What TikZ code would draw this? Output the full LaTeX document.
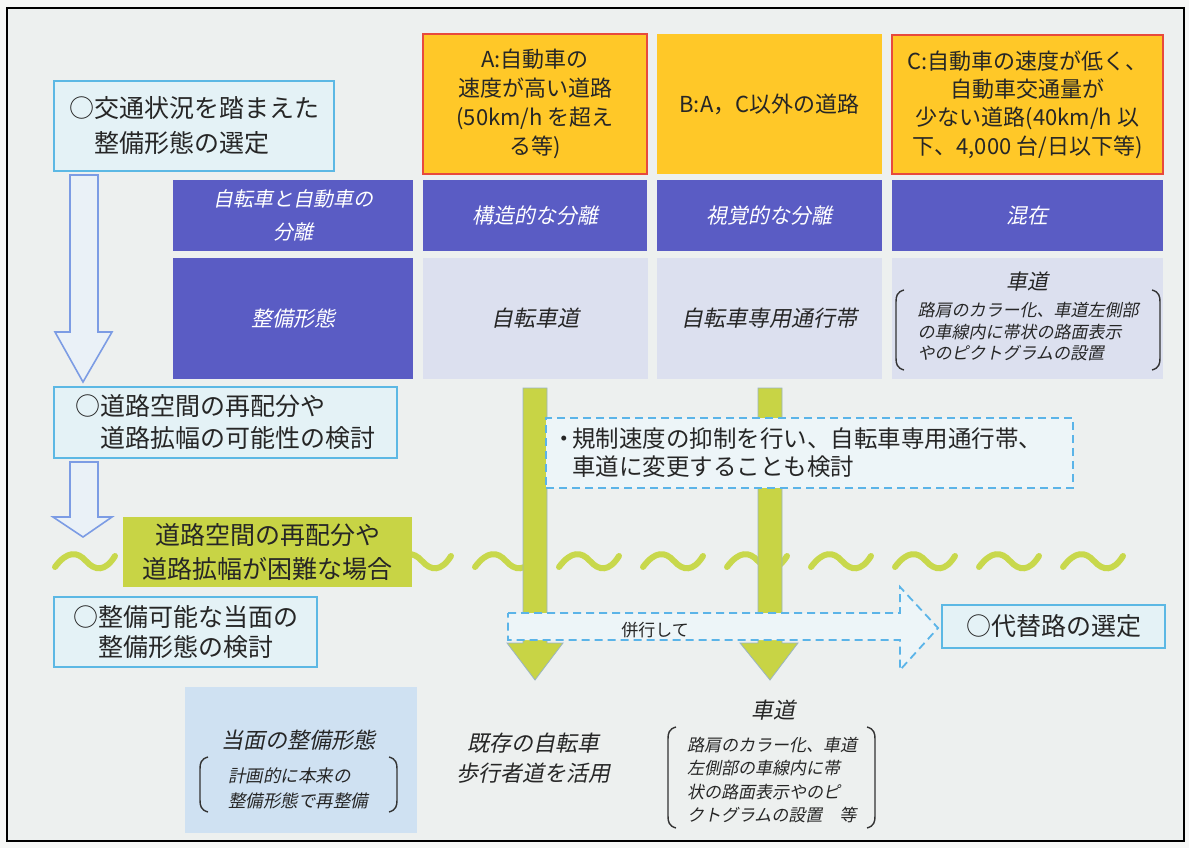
\documentclass[tikz,border=0pt]{standalone}
\usepackage{fontspec}
\setmainfont{Noto Sans CJK JP}
\newfontfamily\itf[FakeSlant=0.2]{Noto Sans CJK JP}
\definecolor{bg}{HTML}{EDF0EF}
\definecolor{outbg}{HTML}{F6F7F6}
\definecolor{cyanline}{HTML}{5CB8E4}
\definecolor{cyanfill}{HTML}{E4F2F6}
\definecolor{purplec}{HTML}{5A5CC4}
\definecolor{lavc}{HTML}{DCE0EF}
\definecolor{yellowc}{HTML}{FFC828}
\definecolor{redc}{HTML}{E84A3C}
\definecolor{greenc}{HTML}{C8D445}
\definecolor{gline}{HTML}{C8D84C}
\definecolor{arrowblue}{HTML}{7C9CE4}
\definecolor{arrowfill}{HTML}{EAF1F7}
\definecolor{dashc}{HTML}{5BB4E8}
\definecolor{dbfill}{HTML}{EDF5F8}
\definecolor{bluefill}{HTML}{CFE1F2}
\definecolor{txt}{HTML}{262626}
\definecolor{brkc}{HTML}{333333}
\definecolor{goutline}{HTML}{9AB4C4}
\newcommand\mylbrk[3]{\draw[brk] (#1+8,#2) .. controls (#1+1,#2+2) and (#1,#2+6) .. (#1,#2+12) -- (#1,#3-12) .. controls (#1,#3-6) and (#1+1,#3-2) .. (#1+8,#3);}
\newcommand\myrbrk[3]{\draw[brk] (#1-8,#2) .. controls (#1-1,#2+2) and (#1,#2+6) .. (#1,#2+12) -- (#1,#3-12) .. controls (#1,#3-6) and (#1-1,#3-2) .. (#1-8,#3);}
\tikzset{
  box/.style={anchor=north west, inner sep=0pt, outer sep=0pt, text=txt},
  cyanbox/.style={box, draw=cyanline, fill=cyanfill, line width=1.8pt, align=left, font=\fontsize{25}{33}\selectfont},
  yel/.style={box, fill=yellowc, align=center, font=\fontsize{22}{29}\selectfont},
  pur/.style={box, fill=purplec, text=white, align=center, font=\itf\fontsize{21}{33}\selectfont},
  lav/.style={box, fill=lavc, align=center, font=\itf\fontsize{22}{28}\selectfont},
  itx/.style={inner sep=0pt, text=txt},
  brk/.style={draw=brkc, line width=1.4pt},
  tilde/.style={draw=gline, line width=6pt, line cap=round},
  hollow/.style={draw=arrowblue, fill=arrowfill, line width=1.6pt, line join=miter},
  garrow/.style={draw=goutline, fill=greenc, line width=0.8pt},
  dashbox/.style={draw=dashc, line width=1.8pt, dash pattern=on 8pt off 5pt},
}
\begin{document}
\begin{tikzpicture}[x=1pt,y=-1pt]
\useasboundingbox (0,0) rectangle (1189,848);
\fill[outbg] (0,0) rectangle (1189,848);
\draw[line width=1.5pt, fill=bg] (7,8) rectangle (1184,841);

% tildes
\foreach \k in {0,...,12}{
  \pgfmathsetmacro\xo{55+84*\k}
  \draw[tilde] (\xo,567) .. controls (\xo+12,551) and (\xo+22,551) .. (\xo+31,561) .. controls (\xo+40,571) and (\xo+50,572) .. (\xo+60,556);
}

% green box
\node[box, fill=greenc, align=center, font=\fontsize{25}{34}\selectfont, minimum width=289pt, minimum height=70pt] (gb) at (123,517) {道路空間の再配分や\\道路拡幅が困難な場合};

% green arrows
\draw[garrow] (523,388) -- (547,388) -- (547,643) -- (563,643) -- (535,680) -- (507,643) -- (523,643) -- cycle;
\draw[garrow] (758,388) -- (782,388) -- (782,643) -- (798,643) -- (770,680) -- (740,643) -- (758,643) -- cycle;

% dashed box
\node[box, dashbox, fill=dbfill, align=left, text width=505pt, inner xsep=11pt, minimum height=70pt, font=\fontsize{23.5}{28}\selectfont] (db) at (546,418) {\makebox[15pt]{・}規制速度の抑制を行い、自転車専用通行帯、\\\hspace*{15pt}車道に変更することも検討};

% parallel dashed arrow
\draw[dashbox, fill=dbfill] (508,613) -- (900,613) -- (900,587) -- (938,628) -- (900,670) -- (900,640) -- (508,640) -- cycle;
\node[itx, font=\fontsize{17}{20}\selectfont] (par) at (655,630) {併行して};

% alt route box
\node[cyanbox, align=center, minimum width=223pt, minimum height=43pt] (alt) at (942,605) {○代替路の選定};

% left flow boxes
\node[cyanbox, minimum width=280pt, minimum height=90pt, font=\fontsize{25}{35}\selectfont] (b1) at (54,81) {○交通状況を踏まえた\\　整備形態の選定};
\node[cyanbox, minimum width=343pt, minimum height=71pt, font=\fontsize{25}{32}\selectfont] (b2) at (54,387) {○道路空間の再配分や\\　道路拡幅の可能性の検討};
\node[cyanbox, minimum width=263pt, minimum height=70pt, font=\fontsize{25}{30}\selectfont] (b3) at (54,597) {○整備可能な当面の\\　整備形態の検討};

% hollow arrows
\draw[hollow] (70,175) -- (98,175) -- (98,332) -- (112,332) -- (83,382) -- (55,332) -- (70,332) -- cycle;
\draw[hollow] (70,462) -- (98,462) -- (98,517) -- (112,517) -- (83,537) -- (53,517) -- (70,517) -- cycle;

% yellow headers
\node[yel, draw=redc, line width=1.8pt, minimum width=224pt, minimum height=140pt] (ya) at (423,34) {A:自動車の\\速度が高い道路\\(50km/h を超え\\る等)};
\node[yel, minimum width=225pt, minimum height=140pt] (yb) at (657,34) {B:A，C以外の道路};
\node[yel, draw=redc, line width=1.8pt, minimum width=271pt, minimum height=139pt, font=\fontsize{22}{28.3}\selectfont] (yc) at (892,35) {C:自動車の速度が低く、\\自動車交通量が\\少ない道路(40km/h 以\\下、4,000 台/日以下等)};

% purple row 1
\node[pur, minimum width=240pt, minimum height=71pt, font=\itf\fontsize{20}{33}\selectfont] (p0) at (173,180) {自転車と自動車の\\分離};
\node[pur, minimum width=224pt, minimum height=71pt] (pa) at (423,180) {構造的な分離};
\node[pur, minimum width=225pt, minimum height=71pt] (pb) at (657,180) {視覚的な分離};
\node[pur, minimum width=271pt, minimum height=71pt] (pc) at (892,180) {混在};

% row 2
\node[pur, minimum width=240pt, minimum height=121pt] (q0) at (173,258) {整備形態};
\node[lav, minimum width=225pt, minimum height=121pt] (qa) at (423,258) {自転車道};
\node[lav, minimum width=225pt, minimum height=121pt] (qb) at (657,258) {自転車専用通行帯};
\node[lav, minimum width=271pt, minimum height=121pt] (qc) at (892,258) {};
\node[itx, font=\itf\fontsize{21}{24}\selectfont] (qct) at (1027,282) {車道};
\node[itx, align=left, font=\itf\fontsize{17}{21.5}\selectfont] (qcd) at (1028,332) {路肩のカラー化、車道左側部\\の車線内に帯状の路面表示\\やのピクトグラムの設置};
\mylbrk{896}{290}{370}
\myrbrk{1160}{290}{370}

% bottom
\node[box, fill=bluefill, minimum width=232pt, minimum height=146pt] (bb) at (185,687) {};
\node[itx, font=\itf\fontsize{22}{26}\selectfont] (bbt) at (298,740) {当面の整備形態};
\node[itx, align=left, font=\itf\fontsize{17.5}{25}\selectfont] (bbd) at (298,788) {計画的に本来の\\整備形態で再整備};
\mylbrk{200}{757}{812}
\myrbrk{397}{757}{812}

\node[itx, align=center, font=\itf\fontsize{22}{30}\selectfont] (kz) at (533,758) {既存の自転車\\歩行者道を活用};

\node[itx, font=\itf\fontsize{22}{26}\selectfont] (sd) at (773,710) {車道};
\node[itx, align=left, font=\itf\fontsize{17}{23.3}\selectfont] (sdd) at (772,780) {路肩のカラー化、車道\\左側部の車線内に帯\\状の路面表示やのピ\\クトグラムの設置　等};
\mylbrk{668}{727}{828}
\myrbrk{875}{727}{828}
\end{tikzpicture}
\end{document}
